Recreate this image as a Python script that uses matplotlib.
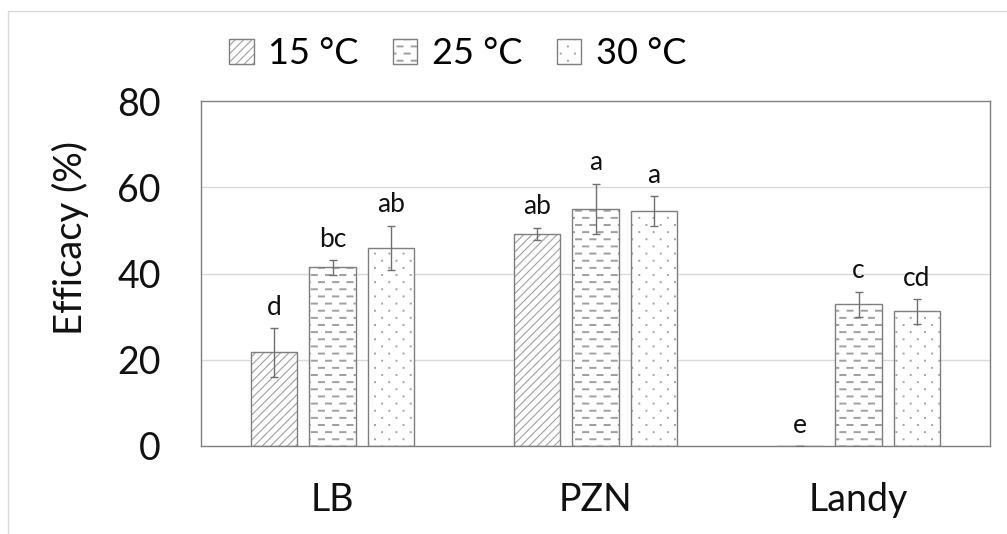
import numpy as np
import matplotlib
matplotlib.use("Agg")
import matplotlib.pyplot as plt
import matplotlib.hatch as mhatch
import matplotlib.patches as mpatches
from matplotlib.path import Path

# === Data ===
categories = ["LB", "PZN", "Landy"]
temps = ["15 °C", "25 °C", "30 °C"]
efficacy_15 = [21.7, 49.2, 0.0]
efficacy_25 = [41.4, 55.0, 32.9]
efficacy_30 = [46.0, 54.5, 31.2]
err_15 = [5.6, 1.4, 0.0]
err_25 = [1.7, 5.8, 2.9]
err_30 = [5.1, 3.4, 2.9]
letters_15 = ["d", "ab", "e"]
letters_25 = ["bc", "a", "c"]
letters_30 = ["ab", "a", "cd"]


# === Excel-like patterns: staggered dashes for '-', sparse staggered dots for '.' ===
def _rect(cx, cy, w, h):
    return [(cx - w / 2, cy - h / 2), (cx + w / 2, cy - h / 2),
            (cx + w / 2, cy + h / 2), (cx - w / 2, cy + h / 2), (cx - w / 2, cy - h / 2)]


class DashedHorizontalHatch(mhatch.HorizontalHatch):
    rows, cols = 14, 7

    def __init__(self, hatch, density):
        self.on = hatch.count('-') > 0
        self.num_vertices = self.rows * self.cols * 2 * 5 if self.on else 0

    def set_vertices_and_codes(self, vertices, codes):
        period = 1.0 / self.cols
        k = 0
        for i in range(self.rows):
            y = (i + 0.5) / self.rows
            for j in range(self.cols):
                cx = (j + 0.5 + 0.5 * (i % 2)) * period
                for dx in (0.0, -1.0):
                    vertices[k:k + 5] = _rect(cx + dx, y, 0.06, 0.008)
                    codes[k:k + 5] = [Path.MOVETO, Path.LINETO, Path.LINETO,
                                      Path.LINETO, Path.CLOSEPOLY]
                    k += 5


class SparseDotHatch(mhatch.SmallFilledCircles):
    rows, cols = 14, 7

    def __init__(self, hatch, density):
        self.on = hatch.count('.') > 0
        self.num_vertices = self.rows * self.cols * 5 if self.on else 0

    def set_vertices_and_codes(self, vertices, codes):
        k = 0
        for i in range(self.rows):
            y = (i + 0.5) / self.rows
            for j in range(self.cols):
                cx = (j + 0.25 + 0.5 * (i % 2)) / self.cols
                vertices[k:k + 5] = _rect(cx, y, 0.008, 0.008)
                codes[k:k + 5] = [Path.MOVETO, Path.LINETO, Path.LINETO,
                                  Path.LINETO, Path.CLOSEPOLY]
                k += 5


swap = {mhatch.HorizontalHatch: DashedHorizontalHatch,
        mhatch.SmallFilledCircles: SparseDotHatch}
mhatch._hatch_types = [swap.get(h, h) for h in mhatch._hatch_types]

plt.rcParams['font.family'] = ['Lato', 'DejaVu Sans']
plt.rcParams['hatch.linewidth'] = 0.8

edge_dark = '#7f7f7f'
hatch_grey = '#a0a0a0'
hatches = ['////', '-', '.']

fig = plt.figure(figsize=(10.07, 5.34), dpi=100)
ax = fig.add_axes([201 / 1007, 1 - 446 / 534, 789 / 1007, 345 / 534])

x = np.arange(len(categories))
width = 0.175
step = 0.222
series = [efficacy_15, efficacy_25, efficacy_30]
errs = [err_15, err_25, err_30]
letters = [letters_15, letters_25, letters_30]

for i, (vals, err, lab, h) in enumerate(zip(series, errs, letters, hatches)):
    pos = x + (i - 1) * step
    ax.bar(pos, vals, width, color='white', edgecolor=hatch_grey, linewidth=0,
           hatch=h, zorder=2)
    ax.bar(pos, vals, width, fill=False, edgecolor=edge_dark, linewidth=1.0,
           zorder=3)
    ax.errorbar(pos, vals, yerr=err, fmt='none', ecolor='#707070',
                elinewidth=1.0, capsize=2.6, capthick=1.0, zorder=4)
    for px, v, e, t in zip(pos, vals, err, lab):
        ax.annotate(t, (px, v + e), xytext=(0, 6), textcoords='offset points',
                    ha='center', va='bottom', fontsize=19, color='#111111')

ax.set_xlim(-0.5, 2.5)
ax.set_ylim(0, 80)
ax.set_yticks([0, 20, 40, 60, 80])
ax.set_xticks(x)
ax.set_xticklabels(categories)
ax.tick_params(axis='both', length=0, labelsize=27, colors='#111111')
ax.tick_params(axis='y', pad=29)
ax.tick_params(axis='x', pad=26)
for y in [20, 40, 60]:
    ax.axhline(y, color='#d9d9d9', linewidth=1.0, zorder=1)
for s in ax.spines.values():
    s.set_color(edge_dark)
    s.set_linewidth(1.0)

fig.text(70 / 1007, 1 - 238 / 534, "Efficacy (%)", rotation=90,
         ha='center', va='center', fontsize=27.5, color='#111111')

# outer chart border (light grey, cropped on the right and bottom)
fig.patches.append(mpatches.Rectangle((8 / 1007, -0.1), 1.2, 1 - 11 / 534 + 0.1,
                                      transform=fig.transFigure, fill=False,
                                      edgecolor='#d9d9d9', linewidth=1.0))

handles = []
for h in hatches:
    handles.append((mpatches.Patch(facecolor='white', edgecolor=hatch_grey,
                                   linewidth=0, hatch=h),
                    mpatches.Patch(fill=False, edgecolor=edge_dark, linewidth=1.0)))
fig.legend(handles, temps, loc='upper left', bbox_to_anchor=(229 / 1007, 1 - 37 / 534),
           ncol=3, frameon=False, fontsize=26, borderpad=0, borderaxespad=0,
           handlelength=0.68, handleheight=0.68, handletextpad=0.4,
           columnspacing=0.95)

fig.savefig("out.png", dpi=100)
